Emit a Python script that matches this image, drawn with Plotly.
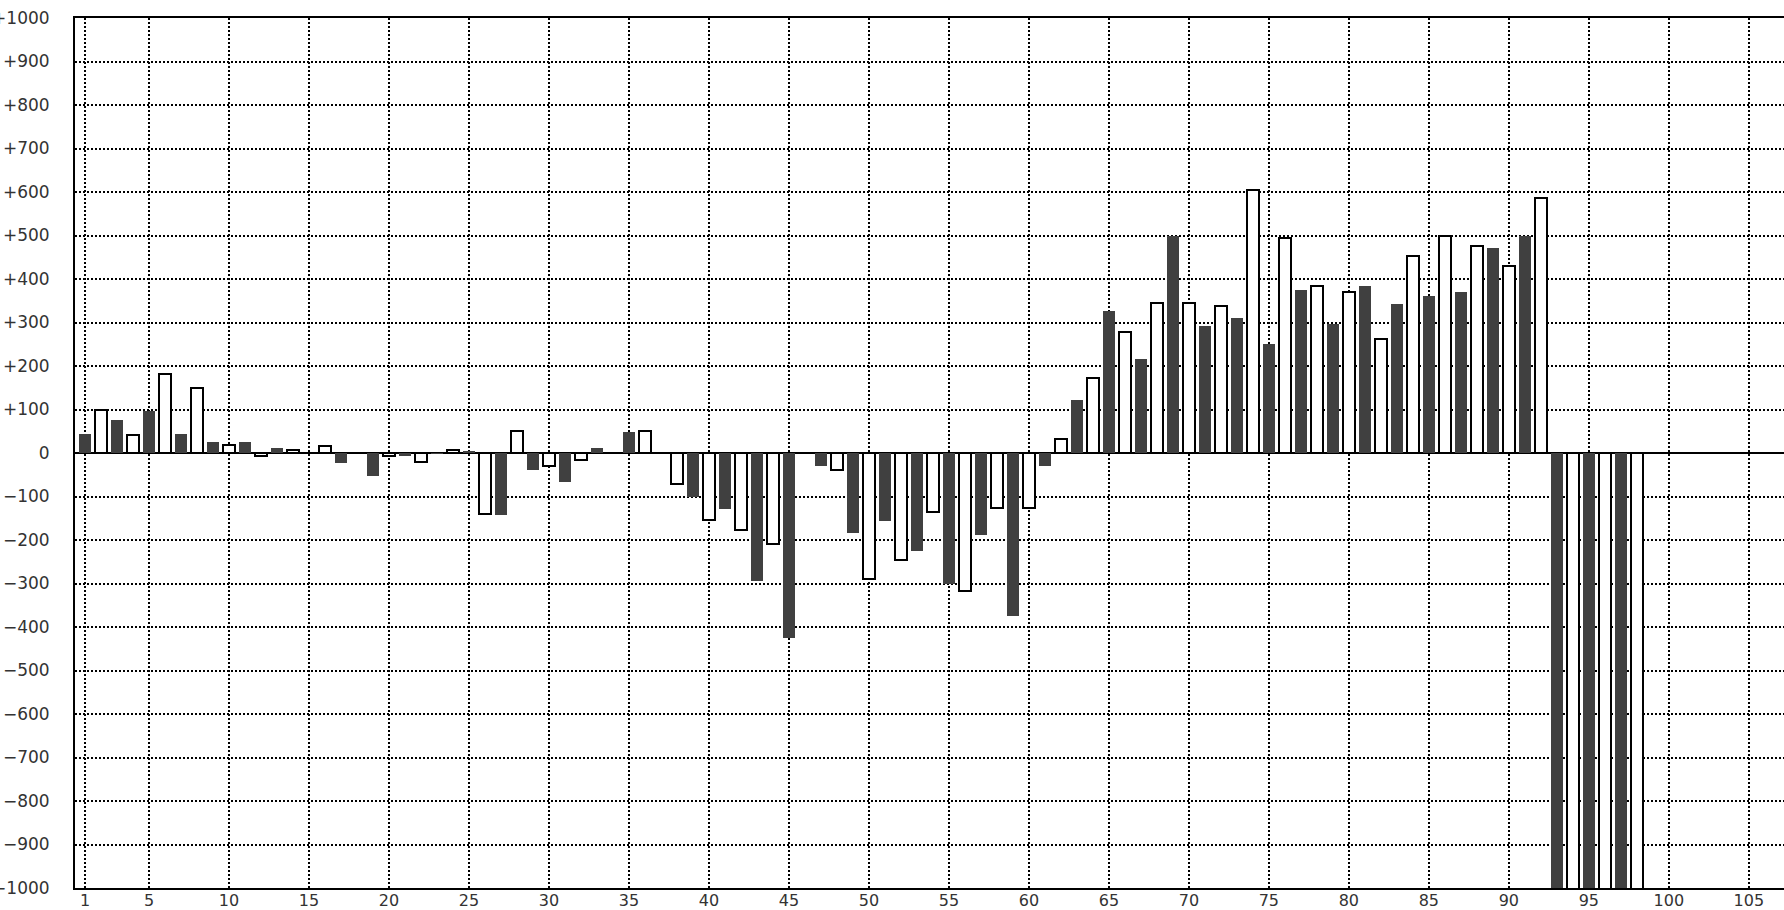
import plotly.graph_objects as go

# Data (bar index 1..98, value)
positions = list(range(1, 99))
values = [
    43, 100, 76, 42, 96, 181, 43, 150, 25, 19,        # 1-10
    25, -7, 11, 6, 0, 15, -22, 0, -54, -7,            # 11-20
    -7, -20, -2, 6, 5, -140, -142, 51, -40, -29,      # 21-30
    -67, -15, 11, 0, 48, 50, 0, -71, -100, -154,      # 31-40
    -128, -178, -295, -210, -426, 0, -30, -38, -184, -289,  # 41-50
    -156, -247, -226, -136, -302, -317, -188, -126, -375, -126,  # 51-60
    -30, 33, 122, 172, 326, 278, 215, 344, 500, 344,  # 61-70
    292, 337, 311, 605, 251, 494, 375, 383, 297, 369, # 71-80
    385, 263, 343, 453, 362, 500, 371, 477, 472, 429, # 81-90
    500, 586, -1200, -1200, -1200, -1200, -1200, -1200,  # 91-98
]
x_tick_vals = [1] + list(range(5, 106, 5))
x_tick_text = [str(v) for v in x_tick_vals]
y_tick_vals = list(range(-1000, 1001, 100))
y_tick_text = [("+%d" % v) if v > 0 else ("0" if v == 0 else "\u2212%d" % (-v)) for v in y_tick_vals]

DARK = "#404040"
fill_colors = [DARK if p % 2 == 1 else "#ffffff" for p in positions]
line_colors = [DARK if p % 2 == 1 else "#000000" for p in positions]
line_widths = [0 if p % 2 == 1 else 2 for p in positions]

fig = go.Figure()
fig.add_trace(go.Bar(
    x=positions, y=values, width=0.75,
    marker=dict(color=fill_colors, line=dict(color=line_colors, width=line_widths)),
    showlegend=False, hoverinfo="x+y",
))

y_font = dict(family="DejaVu Sans", size=17, color="#333333")
x_font = dict(family="DejaVu Sans", size=16, color="#333333")

fig.update_layout(
    width=1784, height=910,
    margin=dict(l=75, r=0, t=18, b=22, pad=0, autoexpand=False),
    paper_bgcolor="white", plot_bgcolor="white",
    bargap=0,
)
fig.update_xaxes(
    range=[0.375, 107.2], automargin=False,
    tickmode="array", tickvals=x_tick_vals, ticktext=x_tick_text,
    tickfont=x_font, ticks="", ticklabelstandoff=-3, ticklabeloverflow="allow",
    showgrid=True, gridcolor="black", gridwidth=2, griddash="2px,2px",
    showline=True, linecolor="black", linewidth=2, mirror=True,
    zeroline=False,
)
fig.update_yaxes(
    range=[-1000, 1000], automargin=False,
    tickmode="array", tickvals=y_tick_vals, ticktext=y_tick_text,
    tickfont=y_font, ticks="", ticklabelstandoff=20, ticklabeloverflow="allow",
    showgrid=True, gridcolor="black", gridwidth=2, griddash="2px,2px",
    showline=True, linecolor="black", linewidth=2,
    zeroline=True, zerolinecolor="black", zerolinewidth=2,
)

# remove the page's default body margin so the figure sits at the window corner
fig.write_html(
    "out.html",
    config={"displayModeBar": False},
    post_script="document.body.style.margin='0';",
)
